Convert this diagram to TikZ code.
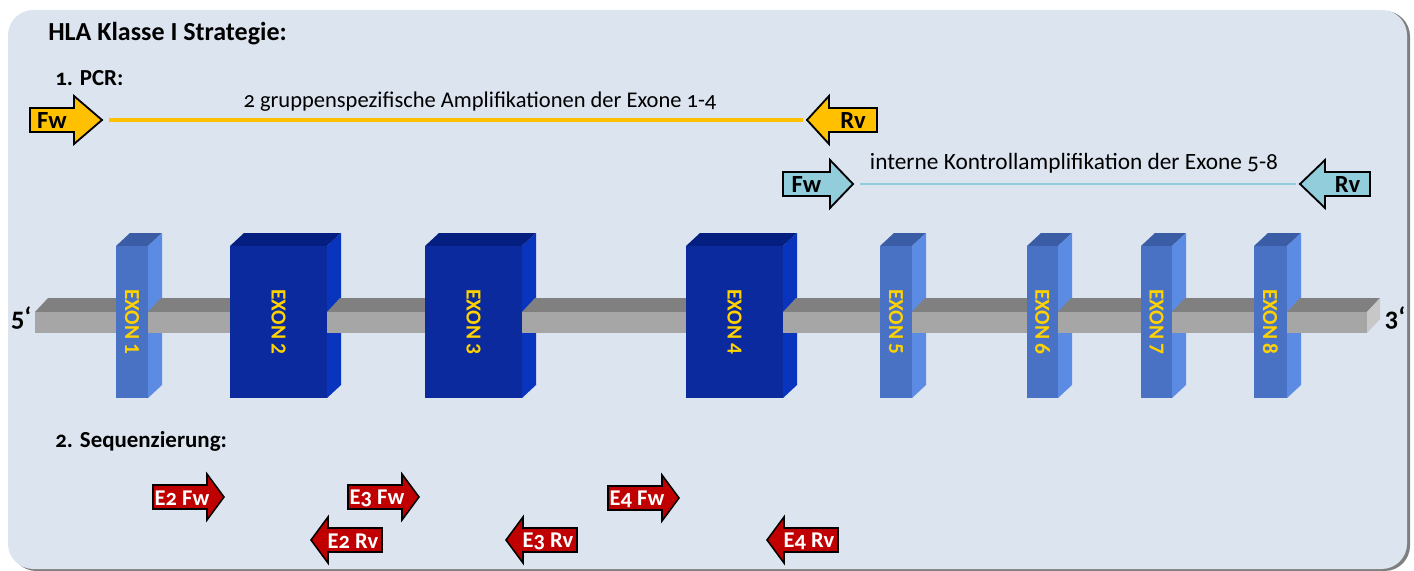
\documentclass[tikz,border=0pt]{standalone}
\usepackage{fontspec}
\setmainfont{Carlito}[Numbers=OldStyle]
\usepackage{tikz}
\usetikzlibrary{positioning}

\definecolor{bgblue}{HTML}{DCE4F0}
\definecolor{bgshadow}{HTML}{7F7F7F}
\definecolor{pcrY}{HTML}{FFC000}
\definecolor{pcrB}{HTML}{92CDDC}
\definecolor{seqred}{HTML}{C00000}
\definecolor{exlabel}{HTML}{FFD200}
\definecolor{ltfront}{HTML}{4A72C4}
\definecolor{lttop}{HTML}{3A5DA6}
\definecolor{ltside}{HTML}{5B8BE2}
\definecolor{dkfront}{HTML}{0A2A9E}
\definecolor{dktop}{HTML}{051F80}
\definecolor{dkside}{HTML}{0834BE}

\tikzset{
    heading/.style={anchor=base west, inner sep=0pt, font=\bfseries\fontsize{18.5}{21}\selectfont},
    section/.style={anchor=base west, inner sep=0pt, font=\bfseries\fontsize{16.3}{19}\selectfont},
    desc/.style={anchor=base, inner sep=0pt, font=\fontsize{16}{19}\selectfont},
    primer/.style={draw=black, line width=1.3pt, line join=miter},
    pcrlabel/.style={inner sep=0pt, font=\bfseries\fontsize{17.5}{17.5}\selectfont},
    seqlabel/.style={inner sep=0pt, text=white, font=\bfseries\fontsize{16}{16}\selectfont},
    pcrline/.style={line width=2.2pt, shorten <=5pt, shorten >=3pt},
    lt/.style={extop/.style={fill=lttop}, exside/.style={fill=ltside}, exfront/.style={fill=ltfront}},
    dk/.style={extop/.style={fill=dktop}, exside/.style={fill=dkside}, exfront/.style={fill=dkfront}},
    exname/.style={rotate=-90, inner sep=0pt, text=exlabel,
      font=\addfontfeatures{Numbers=Lining}\bfseries\fontsize{15.2}{15.2}\selectfont},
    bartop/.style={fill=black!50},
    barfront/.style={fill=black!35},
    barend/.style={fill=black!22},
    endlabel/.style={inner sep=0pt, font=\bfseries\fontsize{19}{19}\selectfont},
}

\begin{document}
\begin{tikzpicture}[x=0.025cm, y=-0.025cm]
  \useasboundingbox (0,0) rectangle (1414,571);
  % background panel
  \fill[bgshadow, rounded corners=18pt] (11,11) rectangle (1410,571);
  \fill[bgblue, rounded corners=18pt] (8,10) rectangle (1407,569);

  \node[heading] (title) at (48,41) {HLA Klasse I Strategie:};
  \node[section] (pcr) at (55,86) {1. PCR:};
  \node[section] (seq) at (55,447) {2. Sequenzierung:};

  % PCR primers
  \foreach \x/\y/\d/\bl/\hl/\c/\lab/\nm in {30/120/1/44/28/pcrY/Fw/yfw, 877/120/-1/48/22/pcrY/Rv/yrv,
      783/184/1/47/23/pcrB/Fw/bfw, 1370/184/-1/45/25/pcrB/Rv/brv}{
    \draw[primer, fill=\c, shift={(\x,\y)}, xscale=\d]
      (0,-12) -- (\bl,-12) -- (\bl,-24) -- (\bl+\hl,0) -- (\bl,24) -- (\bl,12) -- (0,12) -- cycle;
    \coordinate (tip\nm) at ({\x+(\d)*(\bl+\hl)},\y);
    \node[pcrlabel] (\nm) at ({\x+(\d)*\bl/2},\y+1) {\lab};
  }
  \draw[pcrline, pcrY] (tipyfw) -- (tipyrv);
  \draw[pcrline, pcrB, line width=1.8pt] (tipbfw) -- (tipbrv);
  \node[desc] (amp14) at (480,108) {2 gruppenspezifische Amplifikationen der Exone 1-4};
  \node[desc, font=\fontsize{16.6}{19}\selectfont] (amp58) at (1074,170) {interne Kontrollamplifikation der Exone 5-8};

  % exons, back faces
  \foreach \xl/\xr/\t/\n in {116/148/lt/1, 230/327/dk/2, 425/522/dk/3, 686/783/dk/4,
      880/912/lt/5, 1027/1058/lt/6, 1141/1172/lt/7, 1254/1287/lt/8}{
    \begin{scope}[\t]
      \fill[extop] (\xl,246) -- (\xl+14,233) -- (\xr+14,233) -- (\xr,246) -- cycle;
      \fill[exside] (\xr,246) -- (\xr+14,233) -- (\xr+14,385) -- (\xr,398) -- cycle;
    \end{scope}
  }
  % DNA strand
  \foreach \a/\b in {35/116, 148/230, 327/425, 522/686, 783/880, 912/1027, 1058/1141, 1172/1254, 1287/1367}{
    \fill[bartop] (\a,312) -- (\a+13,298) -- (\b+13,298) -- (\b,312) -- cycle;
    \fill[barfront] (\a,312) rectangle (\b,333);
  }
  \fill[barend] (1367,312) -- (1380,298) -- (1380,319) -- (1367,333) -- cycle;
  \node[endlabel] (five) at (21,318) {5‘};
  \node[endlabel] (three) at (1395,318) {3‘};

  % exons, front faces
  \foreach \xl/\xr/\t/\n in {116/148/lt/1, 230/327/dk/2, 425/522/dk/3, 686/783/dk/4,
      880/912/lt/5, 1027/1058/lt/6, 1141/1172/lt/7, 1254/1287/lt/8}{
    \begin{scope}[\t]
      \fill[exfront] (\xl,246) rectangle (\xr,398);
    \end{scope}
    \node[exname] (exon\n) at ({(\xl+\xr)/2},322) {EXON \n};
  }

  % sequencing primers
  \foreach \x/\y/\d/\lab/\nm in {153/497/1/E2 Fw/e2fw, 348/497/1/E3 Fw/e3fw, 608/498/1/E4 Fw/e4fw,
      382/540/-1/E2 Rv/e2rv, 577/540/-1/E3 Rv/e3rv, 838/540/-1/E4 Rv/e4rv}{
    \draw[primer, fill=seqred, line width=1.1pt, shift={(\x,\y)}, xscale=\d]
      (0,-12) -- (54,-12) -- (54,-23) -- (71,0) -- (54,23) -- (54,12) -- (0,12) -- cycle;
    \node[seqlabel] (\nm) at ({\x+(\d)*29},\y+1) {\lab};
  }
\end{tikzpicture}
\end{document}
